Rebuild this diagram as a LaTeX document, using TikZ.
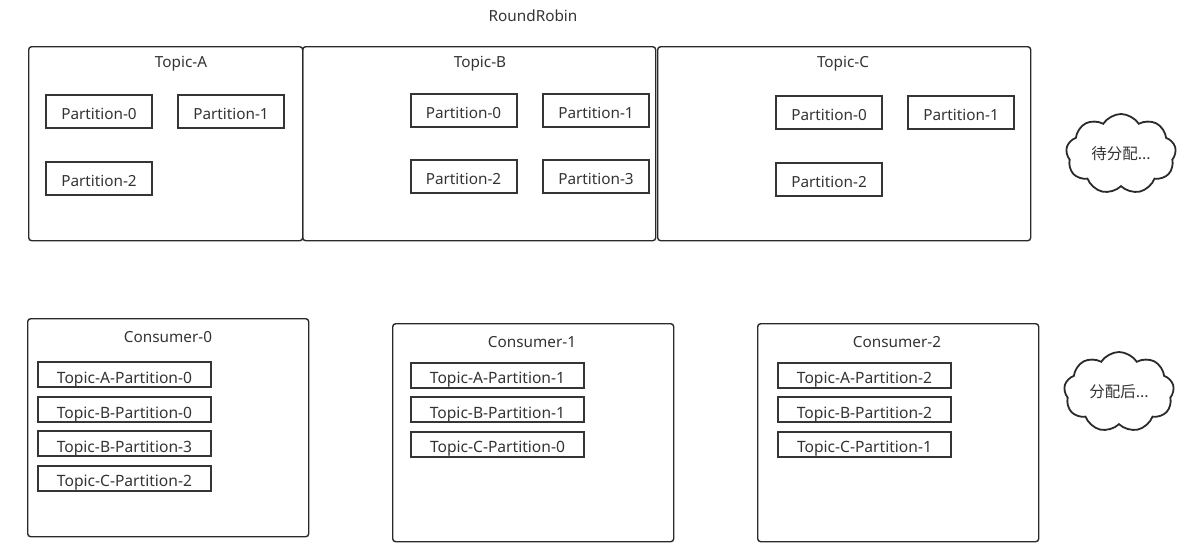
\documentclass[tikz,border=0pt]{standalone}
\usepackage{fontspec}
\setmainfont{Noto Sans}
\newfontfamily\cjk{Noto Sans CJK SC}
\usetikzlibrary{shapes.symbols}
\definecolor{txt}{HTML}{333333}
\definecolor{edge}{HTML}{2A2A2A}
\begin{document}
\begin{tikzpicture}[x=1pt,y=-1pt,
  outerbox/.style={draw=edge, line width=1.4pt, rounded corners=3pt, anchor=north west, inner sep=0pt},
  label/.style={text=txt, font=\fontsize{15.3}{17}\selectfont, inner sep=0pt, anchor=base},
  partbox/.style={draw=edge!95, line width=2pt, minimum width=106pt, minimum height=33pt, inner sep=0pt, text=txt, font=\fontsize{15.3}{17}\selectfont, text height=16pt, text depth=0pt},
  itembox/.style={draw=edge!95, line width=2pt, minimum width=173pt, minimum height=25pt, inner sep=0pt, text=txt, font=\fontsize{15.6}{17}\selectfont, text height=17pt, text depth=0pt},
  note/.style={cloud, draw=edge, line width=1.8pt, cloud puffs=9, cloud puff arc=115, aspect=1.35, minimum width=110pt, minimum height=80pt, inner sep=0pt, text=txt, font=\cjk\fontsize{15.5}{17}\selectfont}]
\useasboundingbox (0,0) rectangle (1187,549);
\node[label] (title) at (533,21) {RoundRobin};
% topics
\node[outerbox, minimum width=274pt, minimum height=194pt] (ta) at (28,46) {};
\node[outerbox, minimum width=353pt, minimum height=194pt] (tb) at (302,46) {};
\node[outerbox, minimum width=373pt, minimum height=194pt] (tc) at (657,46) {};
\node[label] (tal) at (181,67) {Topic-A};
\node[label] (tbl) at (480,67) {Topic-B};
\node[label] (tcl) at (843,67.5) {Topic-C};
\node[partbox] (a0) at (99,111) {Partition-0};
\node[partbox] (a1) at (231,111) {Partition-1};
\node[partbox] (a2) at (99,178.5) {Partition-2};
\node[partbox] (b0) at (463.5,110) {Partition-0};
\node[partbox] (b1) at (596,110) {Partition-1};
\node[partbox] (b2) at (463.5,176.5) {Partition-2};
\node[partbox] (b3) at (596,176.5) {Partition-3};
\node[partbox] (c0) at (829,112) {Partition-0};
\node[partbox] (c1) at (961,112) {Partition-1};
\node[partbox] (c2) at (829,179) {Partition-2};
% consumers
\node[outerbox, minimum width=281pt, minimum height=218pt] (k0) at (27,318) {};
\node[outerbox, minimum width=281pt, minimum height=218pt] (k1) at (392,323) {};
\node[outerbox, minimum width=281pt, minimum height=218pt] (k2) at (757,323) {};
\node[label] (k0l) at (168,342) {Consumer-0};
\node[label] (k1l) at (532,347) {Consumer-1};
\node[label] (k2l) at (897,347) {Consumer-2};
\node[itembox] (k0a) at (124.5,374.5) {Topic-A-Partition-0};
\node[itembox] (k0b) at (124.5,409.5) {Topic-B-Partition-0};
\node[itembox] (k0c) at (124.5,443.5) {Topic-B-Partition-3};
\node[itembox] (k0d) at (124.5,478) {Topic-C-Partition-2};
\node[itembox] (k1a) at (497.5,375) {Topic-A-Partition-1};
\node[itembox] (k1b) at (497.5,409.5) {Topic-B-Partition-1};
\node[itembox] (k1c) at (497.5,444) {Topic-C-Partition-0};
\node[itembox] (k2a) at (864.5,375) {Topic-A-Partition-2};
\node[itembox] (k2b) at (864.5,409.5) {Topic-B-Partition-2};
\node[itembox] (k2c) at (864.5,444) {Topic-C-Partition-1};
% clouds
\node[note] (n1) at (1121,154) {待分配...};
\node[note] (n2) at (1119,392) {分配后...};
\end{tikzpicture}
\end{document}
